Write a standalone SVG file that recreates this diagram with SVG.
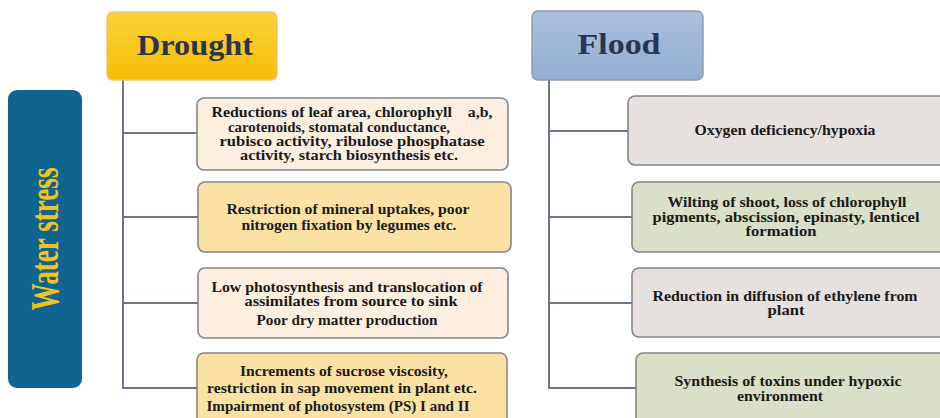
<svg xmlns="http://www.w3.org/2000/svg" width="940" height="418" viewBox="0 0 940 418">
  <style>
    .conn { fill: none; stroke: #6f7292; stroke-width: 2; }
    .box { stroke: #858585; stroke-width: 1.6; }
    .peach { fill: #fcefe0; }
    .yellow { fill: #fbe2a4; }
    .grey { fill: #e6e0de; }
    .green { fill: #d9dfc8; }
    .t { font-family: "Liberation Serif", "Times New Roman", serif; font-weight: bold; font-size: 14px; fill: #1a1a1a; text-anchor: middle; }
    .head { font-family: "Liberation Serif", "Times New Roman", serif; font-weight: bold; fill: #2a3450; text-anchor: middle; }
  </style>
  <defs>
    <linearGradient id="gDrought" x1="0" y1="0" x2="0" y2="1">
      <stop offset="0" stop-color="#fbd43a"/>
      <stop offset="1" stop-color="#f6bc06"/>
    </linearGradient>
    <linearGradient id="gFlood" x1="0" y1="0" x2="0" y2="1">
      <stop offset="0" stop-color="#aac1de"/>
      <stop offset="1" stop-color="#93aed2"/>
    </linearGradient>
  </defs>

  <rect width="940" height="418" fill="#ffffff"/>

  <!-- connectors -->
  <g id="connectors">
    <path class="conn" d="M123 80 V388 H197 M123 133 H197 M123 217 H198 M123 303 H198"/>
    <path class="conn" d="M549 80 V388 H637 M549 131 H628 M549 217 H632 M549 303 H632"/>
  </g>

  <!-- side label -->
  <g id="water-stress">
    <rect x="8" y="90" width="74" height="298" rx="9" fill="#0f6491"/>
    <text transform="translate(58 239) rotate(-90)" text-anchor="middle" font-family="Liberation Serif, 'Times New Roman', serif" font-weight="bold" font-size="40" fill="#f4c21c" textLength="143" lengthAdjust="spacingAndGlyphs">Water stress</text>
  </g>

  <!-- headers -->
  <g id="drought">
    <rect x="107" y="12" width="170" height="68" rx="6" fill="url(#gDrought)" stroke="#e9c869" stroke-width="1.5"/>
    <text class="head" x="195" y="55" font-size="30" textLength="116" lengthAdjust="spacingAndGlyphs">Drought</text>
  </g>
  <g id="flood">
    <rect x="532" y="11" width="171" height="69" rx="6" fill="url(#gFlood)" stroke="#8e9cb0" stroke-width="1.5"/>
    <text class="head" x="619" y="54" font-size="30" textLength="83" lengthAdjust="spacingAndGlyphs">Flood</text>
  </g>

  <!-- drought effects -->
  <g id="d1">
    <rect class="box peach" x="197" y="98" width="311" height="72" rx="7"/>
    <text class="t" xml:space="preserve" lengthAdjust="spacingAndGlyphs"><tspan x="352" y="117" textLength="281" lengthAdjust="spacingAndGlyphs">Reductions of leaf area, chlorophyll    a,b,</tspan><tspan x="339" y="132" textLength="222" lengthAdjust="spacingAndGlyphs">carotenoids, stomatal conductance,</tspan><tspan x="352" y="146" textLength="265" lengthAdjust="spacingAndGlyphs">rubisco activity, ribulose phosphatase</tspan><tspan x="349" y="160" textLength="218" lengthAdjust="spacingAndGlyphs">activity, starch biosynthesis etc.</tspan></text>
  </g>
  <g id="d2">
    <rect class="box yellow" x="198" y="182" width="313" height="70" rx="7"/>
    <text class="t" lengthAdjust="spacingAndGlyphs"><tspan x="348" y="214" textLength="243" lengthAdjust="spacingAndGlyphs">Restriction of mineral uptakes, poor</tspan><tspan x="349" y="230" textLength="215" lengthAdjust="spacingAndGlyphs">nitrogen fixation by legumes etc.</tspan></text>
  </g>
  <g id="d3">
    <rect class="box peach" x="198" y="268" width="310" height="70" rx="7"/>
    <text class="t" lengthAdjust="spacingAndGlyphs"><tspan x="347" y="292" textLength="271" lengthAdjust="spacingAndGlyphs">Low photosynthesis and translocation of</tspan><tspan x="351" y="306" textLength="213" lengthAdjust="spacingAndGlyphs">assimilates from source to sink</tspan><tspan x="347" y="325" textLength="181" lengthAdjust="spacingAndGlyphs">Poor dry matter production</tspan></text>
  </g>
  <g id="d4">
    <rect class="box yellow" x="197" y="353" width="310" height="80" rx="7"/>
    <text class="t" lengthAdjust="spacingAndGlyphs"><tspan x="344" y="376" textLength="208" lengthAdjust="spacingAndGlyphs">Increments of sucrose viscosity,</tspan><tspan x="342" y="393" textLength="270" lengthAdjust="spacingAndGlyphs">restriction in sap movement in plant etc.</tspan><tspan x="338" y="411" textLength="263" lengthAdjust="spacingAndGlyphs">Impairment of photosystem (PS) I and II</tspan></text>
  </g>

  <!-- flood effects -->
  <g id="f1">
    <rect class="box grey" x="628" y="96" width="320" height="69" rx="7"/>
    <text class="t" lengthAdjust="spacingAndGlyphs"><tspan x="785" y="135" textLength="181" lengthAdjust="spacingAndGlyphs">Oxygen deficiency/hypoxia</tspan></text>
  </g>
  <g id="f2">
    <rect class="box green" x="632" y="182" width="316" height="70" rx="7"/>
    <text class="t" lengthAdjust="spacingAndGlyphs"><tspan x="787" y="207" textLength="239" lengthAdjust="spacingAndGlyphs">Wilting of shoot, loss of chlorophyll</tspan><tspan x="786" y="222" textLength="267" lengthAdjust="spacingAndGlyphs">pigments, abscission, epinasty, lenticel</tspan><tspan x="781" y="236" textLength="71" lengthAdjust="spacingAndGlyphs">formation</tspan></text>
  </g>
  <g id="f3">
    <rect class="box grey" x="632" y="268" width="316" height="69" rx="7"/>
    <text class="t" lengthAdjust="spacingAndGlyphs"><tspan x="785" y="301" textLength="265" lengthAdjust="spacingAndGlyphs">Reduction in diffusion of ethylene from</tspan><tspan x="786" y="315" textLength="37" lengthAdjust="spacingAndGlyphs">plant</tspan></text>
  </g>
  <g id="f4">
    <rect class="box green" x="636" y="353" width="312" height="80" rx="7"/>
    <text class="t" lengthAdjust="spacingAndGlyphs"><tspan x="788" y="386" textLength="227" lengthAdjust="spacingAndGlyphs">Synthesis of toxins under hypoxic</tspan><tspan x="780" y="401" textLength="86" lengthAdjust="spacingAndGlyphs">environment</tspan></text>
  </g>
</svg>
